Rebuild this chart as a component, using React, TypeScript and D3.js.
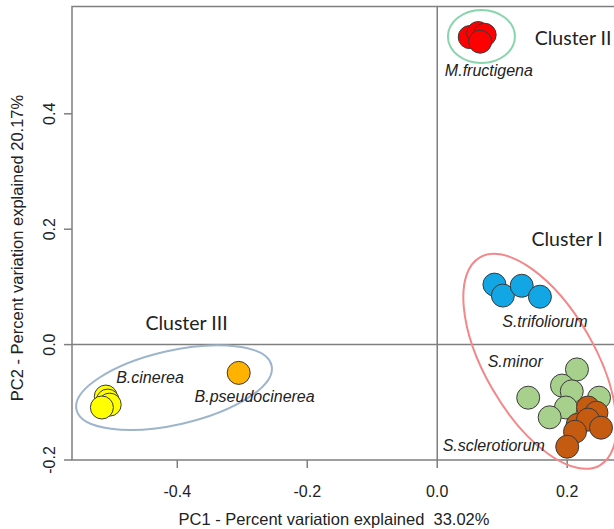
import * as d3 from "d3";

// PCA scores (PC1, PC2) per species
const fructigena: [number, number][] = [[0.050, 0.533], [0.063, 0.540], [0.073, 0.537], [0.066, 0.525]];
const trifoliorum: [number, number][] = [[0.088, 0.104], [0.101, 0.085], [0.130, 0.102], [0.158, 0.083]];
const minor: [number, number][] = [[0.215, -0.043], [0.192, -0.071], [0.207, -0.081], [0.140, -0.092], [0.249, -0.092], [0.198, -0.109], [0.173, -0.126]];
const sclerotiorum: [number, number][] = [[0.232, -0.109], [0.245, -0.118], [0.216, -0.139], [0.232, -0.130], [0.252, -0.144], [0.212, -0.151], [0.200, -0.177]];
const cinerea: [number, number][] = [[-0.510, -0.090], [-0.507, -0.097], [-0.504, -0.104], [-0.516, -0.109]];
const pseudocinerea: [number, number][] = [[-0.3055, -0.049]];

const xTicks = [-0.4, -0.2, 0.0, 0.2];
const yTicks = [-0.2, 0.0, 0.2, 0.4];

const species = [
    { name: "S.trifoliorum", pts: trifoliorum, fill: "#12a6e4", lx: 0.1657, ly: 0.031 },
    { name: "S.minor", pts: minor, fill: "#a8d08d", lx: 0.120, ly: -0.038 },
    { name: "S.sclerotiorum", pts: sclerotiorum, fill: "#c55a11", lx: 0.087, ly: -0.185 },
    { name: "M.fructigena", pts: fructigena, fill: "#ff0000", lx: 0.0795, ly: 0.466 },
    { name: "B.cinerea", pts: cinerea, fill: "#ffff00", lx: -0.442, ly: -0.066 },
    { name: "B.pseudocinerea", pts: pseudocinerea, fill: "#ffb300", lx: -0.281, ly: -0.099 },
];

// cluster outlines: centre in data units, radii in px
const clusters = [
    { name: "Cluster I", cx: 0.158, cy: -0.029, rx: 120, ry: 55, angle: 60, color: "#f3878a", lx: 0.145, ly: 0.171 },
    { name: "Cluster II", cx: 0.068, cy: 0.534, rx: 33.5, ry: 26.5, angle: 0, color: "#88d5ad", lx: 0.150, ly: 0.5195 },
    { name: "Cluster III", cx: -0.405, cy: -0.0745, rx: 100, ry: 37, angle: -12.8, color: "#9db5cc", lx: -0.449, ly: 0.025 },
];

// R style tick labels, plain hyphen for negatives
const fmt = (v: number) => d3.format(".1f")(v).replace("\u2212", "-");

export default function App() {
    const width = 614;
    const height = 529;
    const left = 72, right = 614, top = 6.5, bottom = 460;

    const x = d3.scaleLinear().domain([-0.562, 0.272]).range([left, right]);
    const y = d3.scaleLinear().domain([-0.2, 0.586]).range([bottom, top]);

    const axisColor = "#7f7f7f";
    const sans = "'Liberation Sans', Arial, sans-serif";

    return (
        <svg width={width} height={height} style={{ position: "absolute", left: 0, top: 0 }}>
            <rect width={width} height={height} fill="#fff" />

            {/* frame */}
            <path d={`M${right},${top}H${left}V${bottom}H${right}`} fill="none" stroke={axisColor} strokeWidth={1.5} />
            {/* zero lines */}
            <line x1={x(0)} x2={x(0)} y1={top} y2={bottom} stroke={axisColor} strokeWidth={1.5} />
            <line x1={left} x2={right} y1={y(0)} y2={y(0)} stroke={axisColor} strokeWidth={1.5} />

            {/* x axis ticks */}
            {xTicks.map(t => (
                <g key={"x" + t}>
                    <line x1={x(t)} x2={x(t)} y1={bottom} y2={bottom + 8} stroke={axisColor} strokeWidth={1.5} />
                    <text x={x(t)} y={497} textAnchor="middle" fontFamily={sans} fontSize={16} fill="#222">
                        {fmt(t)}
                    </text>
                </g>
            ))}
            {/* y axis ticks */}
            {yTicks.map(t => (
                <g key={"y" + t}>
                    <line x1={left - 8} x2={left} y1={y(t)} y2={y(t)} stroke={axisColor} strokeWidth={1.5} />
                    <text transform={`translate(55,${y(t)}) rotate(-90)`} textAnchor="middle" fontFamily={sans} fontSize={16} fill="#222">
                        {fmt(t)}
                    </text>
                </g>
            ))}

            {/* axis titles */}
            <text x={334} y={525} textAnchor="middle" fontFamily={sans} fontSize={16.5} fill="#222" style={{ whiteSpace: "pre" }}>
                PC1 - Percent variation explained  33.02%
            </text>
            <text transform={`translate(23,248) rotate(-90)`} textAnchor="middle" fontFamily={sans} fontSize={16.5} fill="#222">
                PC2 - Percent variation explained 20.17%
            </text>

            {/* points */}
            {species.map(s => (
                <g key={s.name}>
                    {s.pts.map((p, i) => (
                        <circle key={i} cx={x(p[0])} cy={y(p[1])} r={11.5} fill={s.fill} stroke="#3a3a3a" strokeWidth={1} />
                    ))}
                </g>
            ))}

            {/* cluster ellipses */}
            {clusters.map(c => (
                <ellipse key={c.name} cx={0} cy={0} rx={c.rx} ry={c.ry}
                    transform={`translate(${x(c.cx)},${y(c.cy)}) rotate(${c.angle})`}
                    fill="none" stroke={c.color} strokeWidth={2} />
            ))}

            {/* species labels */}
            {species.map(s => (
                <text key={"l" + s.name} x={x(s.lx)} y={y(s.ly)} textAnchor="middle" fontFamily={sans}
                    fontStyle="italic" fontSize={16} fill="#222">
                    {s.name}
                </text>
            ))}

            {/* cluster labels */}
            {clusters.map(c => (
                <text key={"c" + c.name} x={x(c.lx)} y={y(c.ly)} fontFamily="Lato, 'Open Sans', sans-serif" fontSize={19.5} fill="#222">
                    {c.name}
                </text>
            ))}
        </svg>
    );
}
